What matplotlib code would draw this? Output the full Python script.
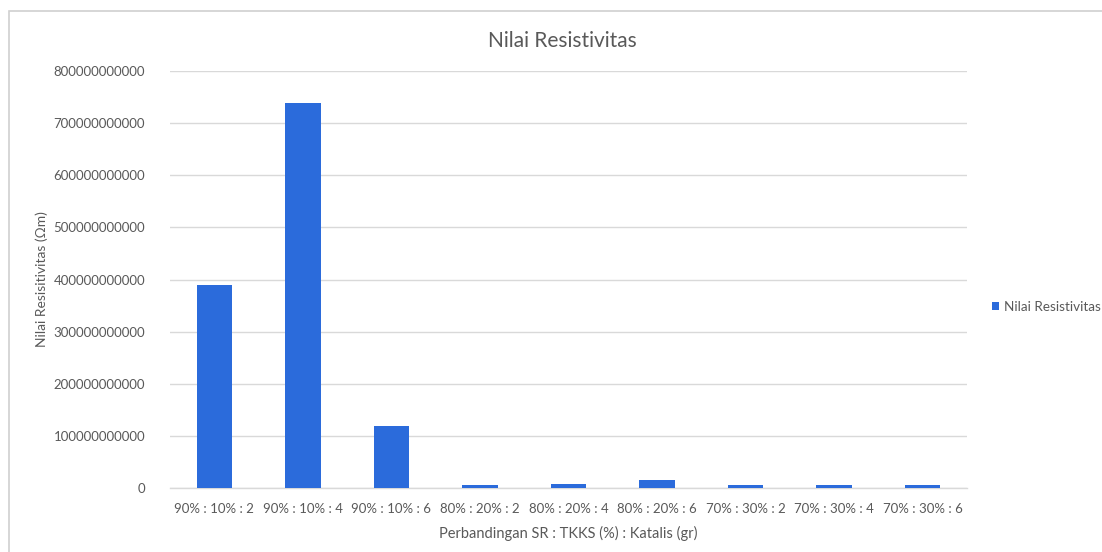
import numpy as np
import matplotlib
matplotlib.use("Agg")
import matplotlib.pyplot as plt
from matplotlib.patches import Rectangle

plt.rcParams['font.family'] = ['Lato', 'DejaVu Sans']

categories = ["90% : 10% : 2", "90% : 10% : 4", "90% : 10% : 6",
              "80% : 20% : 2", "80% : 20% : 4", "80% : 20% : 6",
              "70% : 30% : 2", "70% : 30% : 4", "70% : 30% : 6"]
resistivity = [390e9, 738e9, 119e9, 5e9, 8e9, 15e9, 5e9, 5e9, 5e9]
y_ticks = [0, 100e9, 200e9, 300e9, 400e9, 500e9, 600e9, 700e9, 800e9]

TEXT = "#595959"
GRID = "#d9d9d9"
BAR = "#2B6BDB"

fig = plt.figure(figsize=(11.02, 5.52), dpi=100)
ax = fig.add_axes([0.1543, 0.1159, 0.8775 - 0.1543, 0.8714 - 0.1159])

# chart frame, runs off the right and bottom edges
fig.patches.append(Rectangle((9 / 1102, -0.1), 1.2, 1.1 - 11 / 552,
                             transform=fig.transFigure, fill=False,
                             edgecolor="#d0d0d0", linewidth=1.2))

x = np.arange(len(categories))
ax.bar(x, resistivity, width=0.4, color=BAR, label="Nilai Resistivitas", zorder=3)

ax.set_xlim(-0.5, len(categories) - 0.5)
ax.set_ylim(0, 800e9)
ax.set_yticks(y_ticks)
ax.set_yticklabels([str(int(v)) for v in y_ticks])
ax.set_xticks(x)
ax.set_xticklabels(categories)
ax.tick_params(length=0, colors=TEXT, labelsize=9.5)
ax.tick_params(axis='y', pad=18)
ax.tick_params(axis='x', pad=11)

ax.grid(axis='y', color=GRID, linewidth=1, zorder=0)
for s in ["top", "right", "left"]:
    ax.spines[s].set_visible(False)
ax.spines["bottom"].set_color(GRID)
ax.spines["bottom"].set_linewidth(1)

ax.set_title("Nilai Resistivitas", color=TEXT, fontsize=15, pad=17, x=0.492)
ax.set_ylabel("Nilai Resisitivitas (Ωm)", color=TEXT, fontsize=10, labelpad=4)
ax.set_xlabel("Perbandingan SR : TKKS (%) : Katalis (gr)", color=TEXT,
              fontsize=10.5, labelpad=8)

leg = ax.legend(loc="center left", bbox_to_anchor=(1.031, 0.434), frameon=False,
                handlelength=0.55, handleheight=0.55, handletextpad=0.35,
                borderpad=0, borderaxespad=0, fontsize=9.7)
for t in leg.get_texts():
    t.set_color(TEXT)

fig.savefig("out.png", dpi=100, facecolor="white")
